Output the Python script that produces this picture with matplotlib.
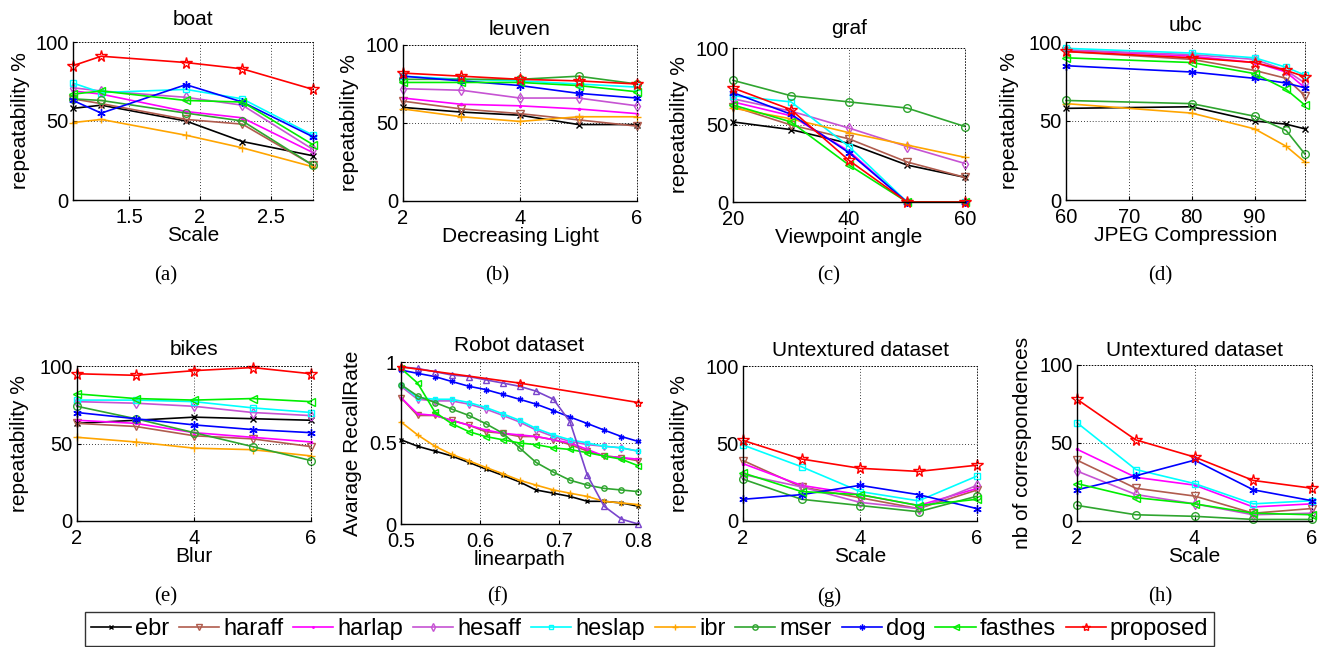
import matplotlib
matplotlib.use('Agg')
import matplotlib.pyplot as plt
from matplotlib.lines import Line2D
from matplotlib.ticker import FormatStrFormatter
from matplotlib.transforms import blended_transform_factory

plt.rcParams['font.family'] = ['Liberation Sans', 'DejaVu Sans']

# ---------------- data ----------------
methods = ['ebr', 'haraff', 'harlap', 'hesaff', 'heslap', 'ibr', 'mser', 'dog', 'fasthes', 'proposed']

boat_x = [1.1, 1.3, 1.9, 2.3, 2.8]
boat = {
    'ebr':      [58, 60, 50, 37, 28],
    'haraff':   [64, 61, 51, 48, 22],
    'harlap':   [69, 67, 56, 52, 30],
    'hesaff':   [71, 69, 65, 60, 32],
    'heslap':   [74, 68, 70, 64, 41],
    'ibr':      [49, 51, 41, 33, 21],
    'mser':     [64, 63, 55, 50, 22],
    'dog':      [63, 55, 73, 62, 40],
    'fasthes':  [67, 69, 63, 62, 35],
    'proposed': [85, 91, 87, 83, 70],
}

leuven_x = [2, 3, 4, 5, 6]
leuven = {
    'ebr':      [60, 57, 55, 49, 49],
    'haraff':   [64, 59, 56, 52, 48],
    'harlap':   [66, 62, 61, 59, 56],
    'hesaff':   [72, 71, 66, 66, 61],
    'heslap':   [80, 78, 77, 75, 73],
    'ibr':      [59, 54, 51, 54, 54],
    'mser':     [78, 78, 78, 80, 75],
    'dog':      [80, 77, 74, 69, 66],
    'fasthes':  [76, 76, 76, 74, 70],
    'proposed': [82, 80, 78, 77, 75],
}

graf_x = [20, 30, 40, 50, 60]
graf = {
    'ebr':      [52, 47, 38, 24, 16],
    'haraff':   [62, 50, 41, 26, 16],
    'harlap':   [65, 56, 33, 0, 0],
    'hesaff':   [67, 59, 48, 36, 25],
    'heslap':   [69, 65, 36, 0, 0],
    'ibr':      [61, 54, 45, 37, 29],
    'mser':     [79, 69, 65, 61, 49],
    'dog':      [71, 57, 32, 0, 0],
    'fasthes':  [63, 52, 24, 0, 0],
    'proposed': [74, 60, 27, 0, 0],
}

ubc_x = [60, 80, 90, 95, 98]
ubc = {
    'ebr':      [58, 59, 50, 48, 45],
    'haraff':   [94, 89, 82, 77, 66],
    'harlap':   [95, 91, 87, 81, 71],
    'hesaff':   [95, 92, 89, 82, 74],
    'heslap':   [96, 93, 90, 84, 79],
    'ibr':      [61, 55, 45, 34, 24],
    'mser':     [63, 61, 53, 44, 29],
    'dog':      [85, 81, 77, 74, 71],
    'fasthes':  [90, 87, 80, 70, 60],
    'proposed': [94, 90, 87, 82, 78],
}

bikes_x = [2, 3, 4, 5, 6]
bikes = {
    'ebr':      [63, 65, 67, 66, 65],
    'haraff':   [63, 61, 55, 53, 48],
    'harlap':   [65, 63, 57, 54, 51],
    'hesaff':   [77, 76, 74, 70, 68],
    'heslap':   [78, 78, 77, 73, 70],
    'ibr':      [54, 51, 47, 46, 42],
    'mser':     [74, 66, 57, 48, 39],
    'dog':      [70, 66, 62, 59, 57],
    'fasthes':  [82, 79, 78, 79, 77],
    'proposed': [95, 94, 97, 99, 95],
}

robot_x = [0.500, 0.521, 0.543, 0.564, 0.586, 0.607, 0.629, 0.650,
           0.671, 0.693, 0.714, 0.736, 0.757, 0.779, 0.800]
robot = {
    'ebr':     [0.52, 0.48, 0.45, 0.42, 0.38, 0.34, 0.30, 0.26, 0.21, 0.19, 0.17, 0.14, 0.14, 0.13, 0.11],
    'haraff':  [0.78, 0.67, 0.67, 0.64, 0.61, 0.57, 0.56, 0.54, 0.54, 0.52, 0.49, 0.45, 0.42, 0.41, 0.39],
    'harlap':  [0.78, 0.68, 0.67, 0.64, 0.61, 0.58, 0.56, 0.55, 0.54, 0.52, 0.50, 0.46, 0.42, 0.41, 0.40],
    'hesaff':  [0.85, 0.77, 0.76, 0.76, 0.74, 0.71, 0.67, 0.63, 0.58, 0.54, 0.51, 0.49, 0.48, 0.47, 0.45],
    'heslap':  [0.86, 0.78, 0.77, 0.77, 0.75, 0.72, 0.68, 0.64, 0.59, 0.55, 0.52, 0.50, 0.48, 0.47, 0.45],
    'ibr':     [0.63, 0.55, 0.48, 0.43, 0.39, 0.35, 0.31, 0.27, 0.24, 0.21, 0.19, 0.17, 0.14, 0.13, 0.12],
    'mser':    [0.86, 0.79, 0.75, 0.71, 0.67, 0.62, 0.56, 0.47, 0.38, 0.32, 0.27, 0.24, 0.22, 0.21, 0.20],
    'dog':     [0.95, 0.93, 0.91, 0.88, 0.85, 0.83, 0.80, 0.77, 0.74, 0.70, 0.66, 0.62, 0.58, 0.54, 0.51],
    'fasthes': [0.96, 0.87, 0.69, 0.62, 0.57, 0.54, 0.52, 0.50, 0.49, 0.47, 0.46, 0.44, 0.42, 0.40, 0.36],
}
robot_extra = [0.97, 0.96, 0.94, 0.92, 0.91, 0.89, 0.87, 0.85, 0.82, 0.77, 0.63, 0.30, 0.11, 0.03, 0.00]
robot_proposed_x = [0.50, 0.65, 0.80]
robot_proposed = [0.97, 0.87, 0.75]

untex_x = [2, 3, 4, 5, 6]
untex_rep = {
    'haraff':   [39, 22, 15, 8, 20],
    'harlap':   [37, 23, 17, 10, 21],
    'hesaff':   [30, 22, 12, 8, 23],
    'heslap':   [49, 35, 19, 13, 29],
    'mser':     [27, 14, 10, 6, 16],
    'dog':      [14, 17, 23, 17, 8],
    'fasthes':  [31, 19, 17, 10, 14],
    'proposed': [52, 40, 34, 32, 36],
}
untex_nb = {
    'haraff':   [39, 21, 16, 5, 8],
    'harlap':   [46, 28, 23, 9, 11],
    'hesaff':   [32, 17, 11, 4, 5],
    'heslap':   [63, 33, 24, 11, 13],
    'mser':     [10, 4, 3, 1, 1],
    'dog':      [20, 29, 39, 20, 13],
    'fasthes':  [24, 15, 11, 5, 4],
    'proposed': [78, 52, 41, 26, 21],
}

titles = ['boat', 'leuven', 'graf', 'ubc', 'bikes', 'Robot dataset', 'Untextured dataset', 'Untextured dataset']
xlabels = ['Scale', 'Decreasing Light', 'Viewpoint angle', 'JPEG Compression', 'Blur', 'linearpath', 'Scale', 'Scale']
ylabels = ['repeatability %'] * 5 + ['Avarage RecallRate', 'repeatability %', 'nb of correspondences']
captions = ['(a)', '(b)', '(c)', '(d)', '(e)', '(f)', '(g)', '(h)']

# ---------------- styles ----------------
colors = {
    'ebr': '#000000', 'haraff': '#b05c4e', 'harlap': '#ff00ff', 'hesaff': '#c653d3',
    'heslap': '#00ffff', 'ibr': '#ffa500', 'mser': '#2fa52f', 'dog': '#0000ff',
    'fasthes': '#00ee00', 'proposed': '#ff0000',
}
markers = {
    'ebr': 'x', 'haraff': 'v', 'harlap': '.', 'hesaff': 'd', 'heslap': 's',
    'ibr': '+', 'mser': 'o', 'dog': (6, 2, 0), 'fasthes': '<', 'proposed': '*',
}
msizes = {
    'ebr': 4.5, 'haraff': 5.5, 'harlap': 3, 'hesaff': 5.5, 'heslap': 5,
    'ibr': 6, 'mser': 5.5, 'dog': 6, 'fasthes': 6, 'proposed': 8.5,
}

W, H = 1326, 647
fig = plt.figure(figsize=(W / 100, H / 100), dpi=100)

# axes boxes in pixels: left, right, top, bottom
boxes = [
    (73, 313, 42, 200), (403, 637, 45, 201), (733, 965, 48, 202), (1066, 1305, 42, 200),
    (77, 311, 366, 521), (401, 638, 362, 524), (743, 977, 366, 521), (1077, 1312, 365, 521),
]
title_gap = [22, 15, 19, 16, 16, 16, 15, 14]
ylabel_right = [30, 359, 689, 1019, 29, 362, 689, 1032]
cap_y = [276, 276, 276, 276, 597, 597, 597, 597]

xlims = [(1.1, 2.8), (2, 6), (20, 60), (60, 98), (2, 6), (0.5, 0.8), (2, 6), (2, 6)]
xticks = [[1.5, 2, 2.5], [2, 4, 6], [20, 40, 60], [60, 70, 80, 90], [2, 4, 6],
          [0.5, 0.6, 0.7, 0.8], [2, 4, 6], [2, 4, 6]]


def style(m, small=False):
    s = msizes[m] * (0.7 if small else 1.0)
    return dict(color=colors[m], marker=markers[m], markersize=s,
                markerfacecolor='none' if m not in ('harlap',) else colors[m],
                markeredgecolor=colors[m], markeredgewidth=1.0, linewidth=1.2,
                clip_on=False)


axes = []
for i, (l, r, t, b) in enumerate(boxes):
    ax = fig.add_axes([l / W, 1 - b / H, (r - l) / W, (b - t) / H])
    axes.append(ax)

panels = [(boat_x, boat), (leuven_x, leuven), (graf_x, graf), (ubc_x, ubc), (bikes_x, bikes)]
for i, (xs, data) in enumerate(panels):
    for m in methods:
        axes[i].plot(xs, data[m], **style(m))

# robot panel
axr = axes[5]
for m in methods[:-1]:
    axr.plot(robot_x, robot[m], **style(m, small=True))
axr.plot(robot_x, robot_extra, color='#7a45cc', marker='^', markersize=4.5,
         markerfacecolor='none', markeredgecolor='#7a45cc', linewidth=1.2, clip_on=False)
axr.plot(robot_proposed_x, robot_proposed, **style('proposed', small=True))

for ax, data in ((axes[6], untex_rep), (axes[7], untex_nb)):
    for m in methods:
        if m in data:
            ax.plot(untex_x, data[m], **style(m))

for i, ax in enumerate(axes):
    ax.set_xlim(*xlims[i])
    ax.set_xticks(xticks[i])
    ax.xaxis.set_major_formatter(FormatStrFormatter('%g'))
    if i == 5:
        ax.set_ylim(0, 1)
        ax.set_yticks([0, 0.5, 1])
    else:
        ax.set_ylim(0, 100)
        ax.set_yticks([0, 50, 100])
    ax.yaxis.set_major_formatter(FormatStrFormatter('%g'))
    ax.grid(True, linestyle=(0, (1, 2.5)), color='k', linewidth=0.6)
    for s in ('top', 'right'):
        ax.spines[s].set_linestyle((0, (1, 2.5)))
        ax.spines[s].set_linewidth(0.6)
    for s in ('left', 'bottom'):
        ax.spines[s].set_linewidth(1.0)
    ax.tick_params(direction='in', length=3, labelsize=14.5, pad=3, colors='k')
    ax.tick_params(axis='x', pad=6)
    ax.set_title(titles[i], fontsize=15, pad=(title_gap[i] - 4.5) / 1.389)
    ax.set_xlabel(xlabels[i], fontsize=15, labelpad=-1)
    ax.set_ylabel(ylabels[i], fontsize=15)
    tr = blended_transform_factory(fig.transFigure, ax.transAxes)
    ax.yaxis.set_label_coords(ylabel_right[i] / W, 0.5, transform=tr)
    fig.text((165.75 + 331.5 * (i % 4)) / W, 1 - cap_y[i] / H, captions[i],
             family=['Liberation Serif', 'DejaVu Serif'], fontsize=15,
             ha='center', va='center')

handles = [Line2D([], [], **{k: v for k, v in style(m, small=True).items() if k != 'clip_on'})
           for m in methods]
leg = fig.legend(handles, methods, loc='upper left', bbox_to_anchor=(85 / W, 1 - 612 / H),
                 ncol=10, fontsize=17, handlelength=1.7, handletextpad=0.17,
                 columnspacing=0.42, borderpad=0.25, borderaxespad=0, frameon=True,
                 fancybox=False, edgecolor='k')
leg.get_frame().set_linewidth(1.0)

fig.savefig('out.png', dpi=100)
